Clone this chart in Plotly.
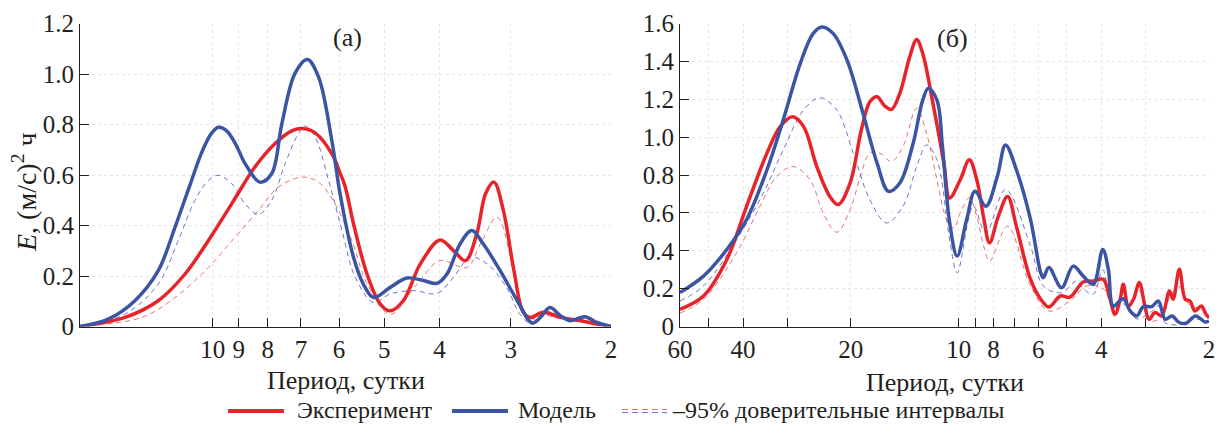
import math
import plotly.graph_objects as go

# ---------------- data (period in days, E) ----------------
# Panel (а)
a_exp_period = [17.09, 14.25, 12.46, 11.18, 10.17, 9.26, 8.43, 7.77, 7.26, 6.97, 6.61, 6.18, 5.97, 5.85, 5.66,
                5.36, 5.08, 4.88, 4.63, 4.32, 3.99, 3.78, 3.60, 3.44, 3.32, 3.21, 3.09, 2.96, 2.85, 2.77,
                2.63, 2.45, 2.26, 2.12, 2.0]
a_exp_E = [0.0, 0.036, 0.102, 0.208, 0.341, 0.486, 0.632, 0.725, 0.775, 0.784, 0.767, 0.685, 0.606, 0.552, 0.407,
           0.208, 0.089, 0.062, 0.102, 0.248, 0.343, 0.301, 0.261, 0.367, 0.526, 0.572, 0.460, 0.221, 0.056, 0.036,
           0.056, 0.036, 0.023, 0.010, 0.0]

a_mod_period = [17.09, 15.25, 13.69, 12.46, 11.64, 11.0, 10.45, 10.05, 9.77, 9.45, 9.1, 8.77, 8.26, 7.88, 7.56,
                7.17, 6.82, 6.52, 6.18, 5.97, 5.66, 5.44, 5.22, 4.88, 4.56, 4.27, 4.04, 3.88, 3.68, 3.51,
                3.35, 3.13, 2.92, 2.75, 2.66, 2.56, 2.45, 2.36, 2.22, 2.12, 2.0]
a_mod_E = [0.0, 0.029, 0.102, 0.221, 0.394, 0.55, 0.69, 0.765, 0.789, 0.775, 0.72, 0.645, 0.572, 0.605, 0.804,
           1.003, 1.058, 0.989, 0.738, 0.52, 0.274, 0.168, 0.115, 0.155, 0.192, 0.182, 0.171, 0.208, 0.327, 0.380,
           0.327, 0.221, 0.102, 0.014, 0.036, 0.075, 0.042, 0.023, 0.039, 0.016, 0.0]

a_exp_lo_period = [17.09, 13.32, 11.64, 10.17, 9.13, 8.31, 7.67, 6.97, 6.52, 6.10, 5.70, 5.36, 4.88, 4.38, 3.99,
                   3.58, 3.39, 3.17, 3.00, 2.87, 2.75, 2.63, 2.45, 2.26, 2.0]
a_exp_lo_E = [0.0, 0.036, 0.115, 0.234, 0.354, 0.460, 0.552, 0.592, 0.572, 0.486, 0.341, 0.17, 0.049, 0.168, 0.261,
              0.234, 0.327, 0.433, 0.274, 0.075, 0.030, 0.045, 0.030, 0.020, 0.0]

a_mod_lo_period = [17.09, 14.25, 12.46, 11.49, 10.74, 10.17, 9.77, 9.26, 8.77, 8.31, 7.88, 7.46, 7.07, 6.88, 6.61,
                   6.26, 5.93, 5.62, 5.22, 4.88, 4.44, 4.04, 3.78, 3.53, 3.30, 3.05, 2.89, 2.75, 2.56, 2.36,
                   2.22, 2.0]
a_mod_lo_E = [0.0, 0.049, 0.168, 0.341, 0.5, 0.579, 0.599, 0.566, 0.486, 0.444, 0.5, 0.645, 0.765, 0.794, 0.751,
              0.579, 0.380, 0.195, 0.095, 0.129, 0.142, 0.131, 0.195, 0.274, 0.248, 0.155, 0.049, 0.010, 0.06, 0.02,
              0.03, 0.0]

# Panel (б)
b_exp_period = [60, 51.6, 44.4, 39.1, 34.3, 31.5, 29.1, 27.1, 24.9, 22.9, 21.7, 20.1, 18.7, 17.7, 16.9, 16.1, 15.4,
                14.6, 13.7, 13.1, 12.6, 11.8, 11.0, 10.6, 9.9, 9.34, 8.9, 8.5, 8.2, 7.75, 7.3, 6.9, 6.3, 5.9,
                5.6, 5.2, 4.89, 4.49, 4.21, 3.95, 3.80, 3.66, 3.54, 3.47, 3.36, 3.25, 3.13, 3.02, 2.94, 2.83,
                2.71, 2.58, 2.52, 2.42, 2.33, 2.26, 2.19, 2.10, 2.04, 2.0]
b_exp_E = [0.091, 0.161, 0.354, 0.635, 0.916, 1.056, 1.108, 1.056, 0.845, 0.687, 0.644, 0.758, 1.038, 1.187, 1.214,
           1.165, 1.147, 1.232, 1.424, 1.516, 1.442, 1.179, 0.863, 0.679, 0.775, 0.881, 0.775, 0.565, 0.442, 0.582,
           0.687, 0.529, 0.249, 0.144, 0.103, 0.161, 0.155, 0.235, 0.240, 0.249, 0.161, 0.065, 0.144, 0.223, 0.108,
           0.144, 0.232, 0.108, 0.038, 0.074, 0.056, 0.187, 0.144, 0.302, 0.144, 0.135, 0.082, 0.108, 0.065, 0.047]

b_mod_period = [60, 51.6, 44.4, 39.1, 34.3, 30.9, 27.7, 25.5, 24.1, 22.4, 20.5, 18.5, 16.9, 15.7, 14.6, 13.4, 12.6,
                12.15, 11.5, 11.1, 10.6, 10.1, 9.5, 9.0, 8.4, 7.8, 7.4, 6.9, 6.3, 5.9, 5.8, 5.6, 5.16, 4.79,
                4.49, 4.21, 3.96, 3.82, 3.70, 3.47, 3.32, 3.18, 3.05, 2.89, 2.77, 2.65, 2.54, 2.42, 2.32, 2.18,
                2.05, 2.0]
b_mod_E = [0.179, 0.266, 0.407, 0.565, 0.828, 1.091, 1.389, 1.547, 1.582, 1.547, 1.407, 1.126, 0.863, 0.714, 0.758,
           0.968, 1.196, 1.258, 1.196, 0.951, 0.55, 0.372, 0.565, 0.714, 0.635, 0.793, 0.959, 0.828, 0.565, 0.284,
           0.258, 0.311, 0.205, 0.319, 0.266, 0.223, 0.407, 0.302, 0.108, 0.147, 0.082, 0.056, 0.105, 0.105, 0.135,
           0.038, 0.056, 0.021, 0.017, 0.056, 0.024, 0.029]

b_exp_lo_period = [60, 51.6, 41.7, 35.9, 32.2, 29.0, 26.0, 23.9, 21.9, 20.1, 18.7, 17.7, 16.6, 15.4, 14.3, 13.1,
                   12.3, 11.5, 10.8, 10.3, 9.9, 9.34, 8.9, 8.5, 8.2, 7.3, 6.3, 5.6, 4.89, 4.39, 3.95, 3.80, 3.66,
                   3.47, 3.36, 3.13, 2.94, 2.71, 2.58, 2.42, 2.26, 2.10, 2.0]
b_exp_lo_E = [0.07, 0.144, 0.389, 0.635, 0.793, 0.845, 0.775, 0.6, 0.498, 0.617, 0.811, 0.916, 0.916, 0.872, 0.951,
              1.153, 1.021, 0.775, 0.565, 0.52, 0.60, 0.68, 0.58, 0.42, 0.345, 0.529, 0.214, 0.082, 0.135, 0.214,
              0.20, 0.14, 0.05, 0.18, 0.09, 0.19, 0.03, 0.05, 0.15, 0.21, 0.11, 0.09, 0.04]

b_mod_lo_period = [60, 51.6, 41.7, 35.1, 30.9, 27.1, 24.4, 21.9, 19.7, 17.7, 15.9, 14.3, 13.1, 12.3, 11.5, 10.6,
                   10.1, 9.10, 8.4, 7.4, 6.3, 5.8, 5.16, 4.68, 4.49, 4.21, 3.96, 3.70, 3.47, 3.18, 2.89, 2.77,
                   2.65, 2.42, 2.18, 2.0]
b_mod_lo_E = [0.135, 0.214, 0.459, 0.705, 0.933, 1.144, 1.208, 1.144, 0.916, 0.670, 0.547, 0.635, 0.845, 0.959,
              0.881, 0.459, 0.284, 0.635, 0.495, 0.723, 0.424, 0.214, 0.179, 0.240, 0.20, 0.17, 0.30, 0.09, 0.12,
              0.04, 0.08, 0.11, 0.02, 0.01, 0.04, 0.02]

a_tickvals = [10, 9, 8, 7, 6, 5, 4, 3, 2]
a_ticktext = ["10", "9", "8", "7", "6", "5", "4", "3", "2"]
b_tickvals = [60, 40, 20, 10, 8, 6, 4, 2]
b_ticktext = ["60", "40", "20", "10", "8", "6", "4", "2"]
b_minorvals = [50, 30, 9, 7, 5, 3]
a_yvals = [0, 0.2, 0.4, 0.6, 0.8, 1.0, 1.2]
a_ytext = ["0", "0.2", "0.4", "0.6", "0.8", "1.0", "1.2"]
b_yvals = [0, 0.2, 0.4, 0.6, 0.8, 1.0, 1.2, 1.4, 1.6]
b_ytext = ["0", "0.2", "0.4", "0.6", "0.8", "1.0", "1.2", "1.4", "1.6"]

legend_labels = ["Эксперимент", "Модель", "–95% доверительные интервалы"]

# ---------------- style ----------------
W, H = 1217, 424
RED = "#E8242B"
BLUE = "#3C54A4"
RED_D = "rgba(236,60,60,0.75)"
BLUE_D = "rgba(70,80,190,0.8)"
INK = "#231F20"
FONT = "Liberation Serif"
TICK_SIZE = 25
TEXT_SIZE = 26
LEG_SIZE = 24


def px(x):
    return x / W


def py(y):
    return 1 - y / H


fig = go.Figure()


def add(xs, ys, color, width, dash, xa, ya):
    fig.add_trace(go.Scatter(x=xs, y=ys, mode="lines", xaxis=xa, yaxis=ya,
                             line=dict(color=color, width=width, dash=dash, shape="spline", smoothing=1.0),
                             showlegend=False, hoverinfo="skip"))


DASH = "5px,4px"
add(a_exp_lo_period, a_exp_lo_E, RED_D, 1, DASH, "x", "y")
add(a_mod_lo_period, a_mod_lo_E, BLUE_D, 1, DASH, "x", "y")
add(a_exp_period, a_exp_E, RED, 3.5, "solid", "x", "y")
add(a_mod_period, a_mod_E, BLUE, 3.5, "solid", "x", "y")
add(b_exp_lo_period, b_exp_lo_E, RED_D, 1, DASH, "x2", "y2")
add(b_mod_lo_period, b_mod_lo_E, BLUE_D, 1, DASH, "x2", "y2")
add(b_exp_period, b_exp_E, RED, 3.5, "solid", "x2", "y2")
add(b_mod_period, b_mod_E, BLUE, 3.5, "solid", "x2", "y2")

ydom = [py(326.5), py(23.6)]
tickfont = dict(family=FONT, size=TICK_SIZE, color=INK)
common_x = dict(type="log", showline=True, linecolor=INK, linewidth=1, ticks="inside", ticklen=9,
                tickcolor=INK, tickwidth=1, showgrid=True, gridcolor="#e6e6e6", griddash="dot", gridwidth=1,
                zeroline=False, tickfont=tickfont, automargin=False, tickmode="array")
common_y = dict(showline=True, linecolor=INK, linewidth=1, ticks="inside", ticklen=9, tickcolor=INK,
                tickwidth=1, showgrid=True, gridcolor="#e6e6e6", griddash="dot", gridwidth=1, zeroline=False,
                tickfont=tickfont, domain=ydom, automargin=False, tickmode="array")

fig.update_layout(
    width=W, height=H, margin=dict(l=0, r=0, t=0, b=0, autoexpand=False),
    paper_bgcolor="white", plot_bgcolor="white", showlegend=False,
    xaxis=dict(common_x, domain=[px(80), px(611)], range=[math.log10(17.09), math.log10(2)],
               tickvals=a_tickvals, ticktext=a_ticktext, anchor="y"),
    yaxis=dict(common_y, range=[0, 1.2], tickvals=a_yvals, ticktext=a_ytext, anchor="x"),
    xaxis2=dict(common_x, domain=[px(680), px(1209)], range=[math.log10(60), math.log10(2)],
                tickvals=b_tickvals, ticktext=b_ticktext, anchor="y2",
                minor=dict(tickmode="array", tickvals=b_minorvals, ticks="inside", ticklen=9,
                           tickcolor=INK, tickwidth=1, showgrid=True, gridcolor="#e6e6e6", griddash="dot")),
    yaxis2=dict(common_y, range=[0, 1.6], tickvals=b_yvals, ticktext=b_ytext, anchor="x2"),
)


def ann(text, x, y, size=TEXT_SIZE, xanchor="center", **kw):
    return dict(text=text, x=px(x), y=py(y), xref="paper", yref="paper", showarrow=False,
                xanchor=xanchor, yanchor="middle", font=dict(family=FONT, size=size, color=INK), **kw)


annotations = [
    ann("(а)", 347, 37),
    ann("(б)", 952, 38),
    ann("Период, сутки", 345.5, 380),
    ann("Период, сутки", 944.5, 382),
    ann("<i>E</i>, (м/с)<sup>2</sup> ч", 24, 192, size=28, textangle=-90),
    ann(legend_labels[0], 295, 410, size=LEG_SIZE, xanchor="left"),
    ann(legend_labels[1], 516, 410, size=LEG_SIZE, xanchor="left"),
    ann(legend_labels[2], 670, 410, size=LEG_SIZE, xanchor="left"),
]
fig.update_layout(annotations=annotations)

shapes = [
    dict(type="line", xref="paper", yref="paper", x0=px(228), x1=px(284), y0=py(411), y1=py(411),
         line=dict(color=RED, width=4)),
    dict(type="line", xref="paper", yref="paper", x0=px(452), x1=px(508), y0=py(411), y1=py(411),
         line=dict(color=BLUE, width=4)),
    dict(type="line", xref="paper", yref="paper", x0=px(622), x1=px(667), y0=py(409.5), y1=py(409.5),
         line=dict(color=RED_D, width=1, dash="6px,4px")),
    dict(type="line", xref="paper", yref="paper", x0=px(622), x1=px(667), y0=py(412.5), y1=py(412.5),
         line=dict(color=BLUE_D, width=1, dash="6px,4px")),
]
fig.update_layout(shapes=shapes)

fig.write_html("out.html", config={"displayModeBar": False},
               post_script="document.body.style.margin='0';document.body.style.overflow='hidden';")
